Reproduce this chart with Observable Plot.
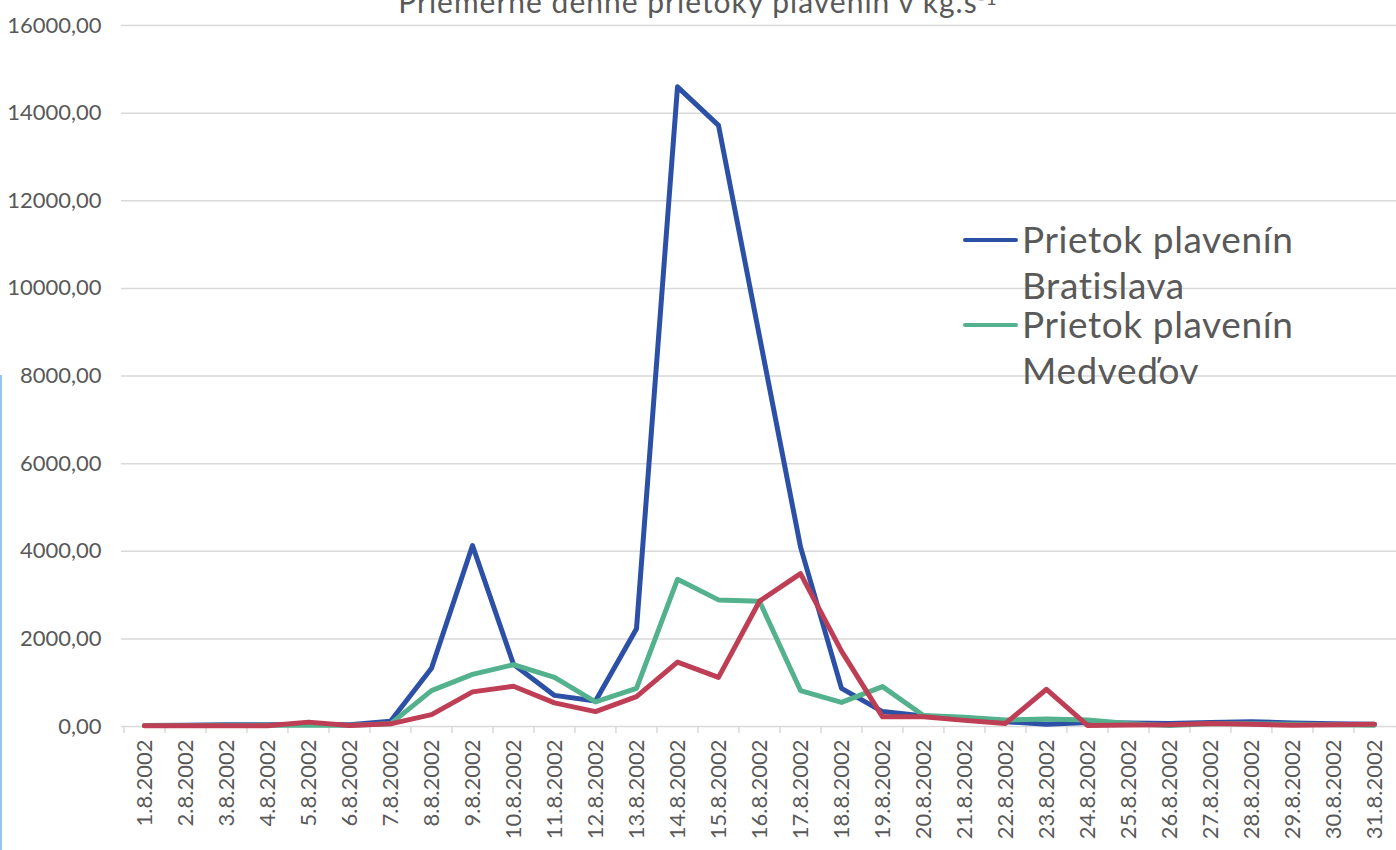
<!DOCTYPE html>
<html><head><meta charset="utf-8">
<script src="https://cdn.jsdelivr.net/npm/d3@7"></script>
<script src="https://cdn.jsdelivr.net/npm/@observablehq/plot@0.6"></script>
<style>
body{margin:0;background:#fff;overflow:hidden;font-family:Lato,"Open Sans",sans-serif;}
#wrap{position:relative;width:1396px;height:850px;overflow:hidden;}
#title{position:absolute;left:0;width:1396px;text-align:center;top:-15px;font-size:30px;line-height:25px;color:#595959;letter-spacing:1px;white-space:nowrap;}
#title sup{font-size:19px;vertical-align:8px;}
#ylabel{position:absolute;left:-25px;top:245px;width:0;height:0;}
#ylabel span{position:absolute;left:0;top:0;transform-origin:0 0;transform:rotate(-90deg) translate(-50%,0);font-size:22px;line-height:22px;color:#595959;white-space:nowrap;display:block;}
#leftbar{position:absolute;left:0;top:375px;width:2px;height:475px;background:#9dc3e6;}
.entry{position:absolute;left:963px;width:430px;}
.sw{position:absolute;left:0;top:22px;width:55px;height:4px;border-radius:2px;}
.lt{position:absolute;left:59px;width:330px;font-size:37px;line-height:46px;color:#595959;letter-spacing:0.6px;}
svg{position:absolute;left:0;top:0;}
</style></head><body><div id="wrap"></div>
<script>
// Categories (x tick labels)
const days = ["1.8.2002","2.8.2002","3.8.2002","4.8.2002","5.8.2002","6.8.2002","7.8.2002","8.8.2002","9.8.2002","10.8.2002",
  "11.8.2002","12.8.2002","13.8.2002","14.8.2002","15.8.2002","16.8.2002","17.8.2002","18.8.2002","19.8.2002","20.8.2002",
  "21.8.2002","22.8.2002","23.8.2002","24.8.2002","25.8.2002","26.8.2002","27.8.2002","28.8.2002","29.8.2002","30.8.2002","31.8.2002"];
// Series values (kg.s-1)
const bratislava = [20,30,40,40,50,40,120,1330,4130,1420,710,580,2230,14600,13720,8900,4100,870,340,240,170,110,50,90,80,70,90,110,80,60,50];
const medvedov   = [20,20,30,30,30,30,60,820,1190,1410,1120,560,870,3360,2890,2860,820,550,910,250,210,150,170,150,70,20,60,60,50,40,30];
const series3    = [15,15,15,15,100,25,60,270,790,920,540,340,680,1470,1120,2860,3490,1720,220,220,140,70,850,25,35,40,70,50,30,40,50];
const seriesNames = ["Prietok plavenín Bratislava","Prietok plavenín Medveďov","Prietok plavenín 3"];
const seriesColors = ["#2B50A6","#53B28D","#BE3F55"];
const legendShown = 2;
const yTicks = [0,2000,4000,6000,8000,10000,12000,14000,16000];
const titleText = "Priemerné denné prietoky plavenín v kg.s";
const titleSup = "-1";
const yLabelText = "Prietok plavenín v kg.s-1";

const seriesValues = [bratislava, medvedov, series3];
const rows = seriesValues.flatMap((vals, s) => days.map((d, i) => ({day: d, value: vals[i], series: seriesNames[s]})));

const W = 1396, H = 850, ML = 121, MR = 0, MT = 25, MB = 124;
const step = (W - ML - MR) / days.length;
const fmt = d => d.toFixed(2).replace(".", ",");

const chart = Plot.plot({
  width: W, height: H, marginLeft: ML, marginRight: MR, marginTop: MT, marginBottom: MB,
  style: {fontFamily: "Lato, 'Open Sans', sans-serif", color: "#595959", background: "transparent"},
  x: {type: "point", domain: days, padding: 0.5},
  y: {domain: [0, 16000]},
  color: {domain: seriesNames, range: seriesColors},
  marks: [
    Plot.gridY(yTicks, {stroke: "#d9d9d9", strokeOpacity: 1, strokeWidth: 1.5}),
    Plot.axisY(yTicks, {tickSize: 0, tickPadding: 20, tickFormat: fmt, fontSize: 22, fill: "#595959", label: null}),
    Plot.axisX({tickSize: 0, tickPadding: 13, tickRotate: -90, fontSize: 22, fill: "#595959", label: null}),
    Plot.axisX({tickSize: 7, tickFormat: () => "", dx: -step / 2, stroke: "#d9d9d9", strokeWidth: 1.5, label: null}),
    Plot.line(rows, {x: "day", y: "value", z: "series", stroke: "series", strokeWidth: 5, strokeLinejoin: "round", strokeLinecap: "round"})
  ]
});

const wrap = document.getElementById("wrap");
wrap.appendChild(chart);

const title = document.createElement("div");
title.id = "title";
title.innerHTML = titleText + "<sup>" + titleSup + "</sup>";
wrap.appendChild(title);

const yl = document.createElement("div");
yl.id = "ylabel";
const ys = document.createElement("span");
ys.textContent = yLabelText;
yl.appendChild(ys);
wrap.appendChild(yl);

const bar = document.createElement("div");
bar.id = "leftbar";
wrap.appendChild(bar);

seriesNames.slice(0, legendShown).forEach((name, i) => {
  const e = document.createElement("div");
  e.className = "entry";
  e.style.top = (216 + i * 85) + "px";
  const sw = document.createElement("div");
  sw.className = "sw";
  sw.style.background = seriesColors[i];
  const t = document.createElement("div");
  t.className = "lt";
  t.textContent = name;
  e.appendChild(sw); e.appendChild(t);
  wrap.appendChild(e);
});
</script></body></html>
